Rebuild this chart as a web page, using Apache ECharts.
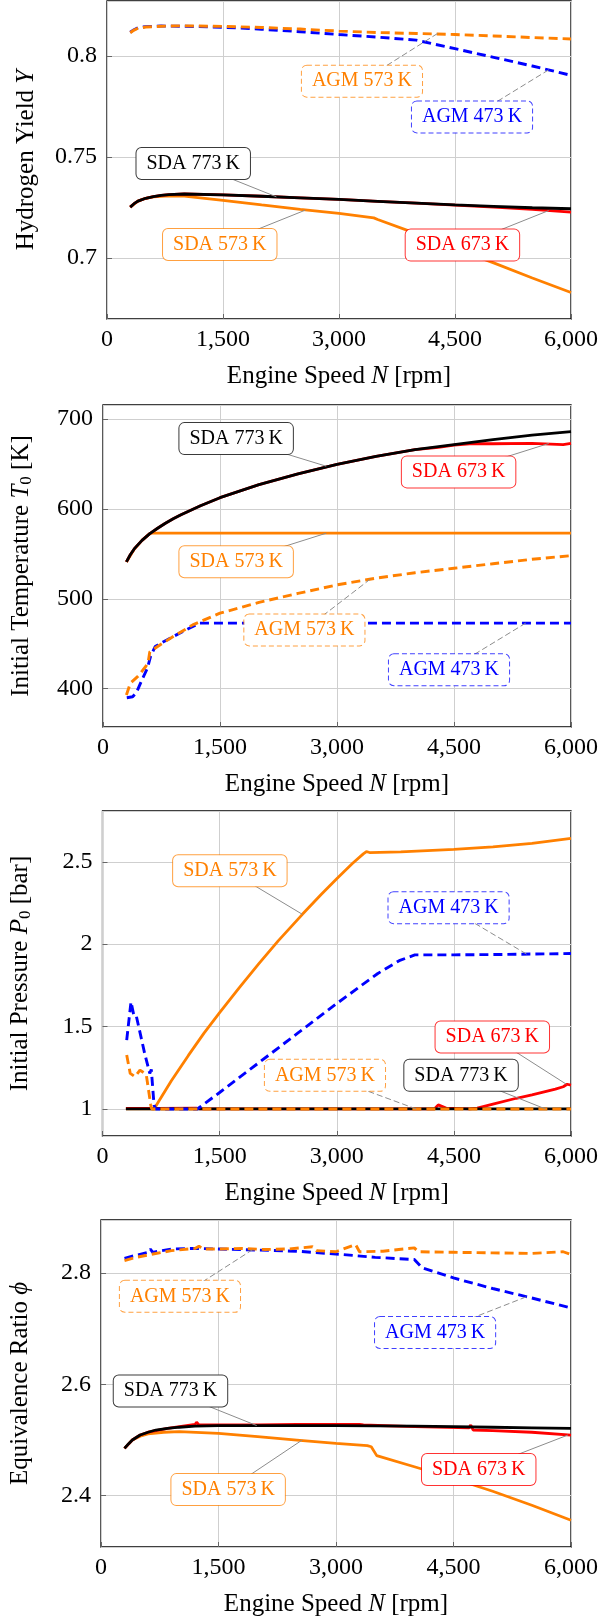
<!DOCTYPE html>
<html>
<head>
<meta charset="utf-8">
<script src="https://cdn.jsdelivr.net/npm/echarts@6/dist/echarts.min.js"></script>
<style>
  html, body { margin: 0; padding: 0; background: #fff; }
  #chart { width: 601px; height: 1624px; }
</style>
</head>
<body>
<div id="chart"></div>
<script>
// engine speed ticks (same for all panels)
const speedTicks = [0, 1500, 3000, 4500, 6000];

// ---- panel 1: hydrogen yield Y ----
const yieldSDA573 = [[300,0.7251],[400,0.7281],[500,0.7295],[600,0.7302],[700,0.7305],[800,0.7307],[1000,0.7306],[1500,0.7285],[2000,0.7262],[2500,0.7240],[3000,0.7220],[3450,0.7198],[3500,0.7190],[4000,0.7120],[4500,0.7046],[5000,0.6975],[5500,0.6900],[6000,0.6828]];
const yieldSDA673 = [[300,0.7251],[350,0.7268],[400,0.7281],[500,0.7295],[600,0.7303],[700,0.7309],[800,0.7313],[1000,0.7316],[1500,0.7312],[2000,0.7305],[2500,0.7297],[3000,0.7289],[3500,0.7280],[4000,0.7271],[4500,0.7261],[5000,0.7251],[5500,0.7240],[6000,0.7226]];
const yieldSDA773 = [[300,0.7251],[350,0.7268],[400,0.7281],[500,0.7295],[600,0.7303],[700,0.7309],[800,0.7313],[1000,0.7316],[1500,0.7312],[2000,0.7305],[2500,0.7297],[3000,0.7289],[3500,0.7280],[4000,0.7271],[4500,0.7262],[5000,0.7255],[5500,0.7248],[6000,0.7243]];
const yieldAGM473 = [[300,0.8117],[350,0.8130],[400,0.8140],[500,0.8145],[700,0.8148],[1000,0.8147],[1500,0.8142],[2000,0.8132],[2500,0.8120],[3000,0.8106],[3500,0.8093],[4000,0.8078],[4500,0.8036],[5000,0.7993],[5500,0.7950],[6000,0.7904]];
const yieldAGM573 = [[300,0.8115],[350,0.8128],[400,0.8137],[500,0.8143],[700,0.8147],[1000,0.8149],[1500,0.8146],[2000,0.8141],[2500,0.8133],[3000,0.8123],[3500,0.8116],[4000,0.8111],[4500,0.8106],[5000,0.8099],[5500,0.8091],[6000,0.8084]];

// ---- panel 2: initial temperature T0 [K] ----
const tempSDA573 = [[300,541],[400,555],[500,565],[600,572.5],[630,573],[6000,573]];
const tempSDA673 = [[300,541],[350,549],[400,555.5],[500,565],[600,572.5],[700,578.5],[800,584],[900,589],[1000,593.5],[1250,603.5],[1500,612.5],[2000,627],[2500,639],[3000,649.5],[3500,658.5],[4000,666],[4300,668.5],[4500,671],[4700,672.5],[5000,672.5],[5500,673],[5900,671.5],[6000,673]];
const tempSDA773 = [[300,541],[350,549],[400,555.5],[500,565],[600,572.5],[700,578.5],[800,584],[900,589],[1000,593.5],[1250,603.5],[1500,612.5],[2000,627],[2500,639],[3000,649.5],[3500,658.5],[4000,666],[4500,671.5],[5000,677],[5500,682],[6000,686]];
const tempAGM473 = [[305,390],[330,388],[380,391],[430,396],[500,410],[570,423],[610,436],[670,447],[750,451],[900,458],[1100,467],[1240,473],[6000,473]];
const tempAGM573 = [[300,393],[350,406],[450,414],[550,425],[580,430],[600,441],[700,447],[900,458],[1150,471],[1500,484],[2000,496],[2500,506],[3000,515.5],[3500,523],[4000,529],[4500,534],[5000,539],[5500,544],[6000,548]];

// ---- panel 3: initial pressure P0 [bar] ----
const presSDA573 = [[300,1.0],[660,1.0],[880,1.17],[1100,1.325],[1300,1.46],[1500,1.585],[1750,1.735],[2000,1.88],[2250,2.02],[2560,2.181],[2800,2.301],[3000,2.397],[3200,2.489],[3340,2.548],[3380,2.562],[3420,2.556],[3820,2.56],[4500,2.575],[5000,2.59],[5500,2.612],[6000,2.642]];
const presSDA673 = [[300,1.003],[700,1.003],[1200,1.005],[1250,1.0],[4250,1.0],[4300,1.025],[4400,1.005],[4700,1.0],[4800,1.005],[5000,1.03],[5300,1.065],[5500,1.085],[5800,1.12],[5900,1.135],[5950,1.15],[6000,1.145]];
const presSDA773 = [[300,1.0],[6000,1.0]];
const presAGM473 = [[310,1.418],[365,1.65],[405,1.56],[435,1.56],[540,1.337],[605,1.216],[625,1.24],[660,1.024],[680,1.0],[1215,1.0],[1500,1.1],[2000,1.28],[2500,1.46],[3000,1.64],[3526,1.822],[3800,1.9],[4000,1.935],[4500,1.935],[5000,1.937],[5500,1.94],[6000,1.943]];
const presAGM573 = [[310,1.327],[355,1.216],[415,1.196],[480,1.236],[560,1.21],[618,1.024],[630,1.0],[6000,1.0]];

// ---- panel 4: equivalence ratio phi ----
const phiSDA573 = [[300,2.485],[400,2.5],[500,2.507],[600,2.511],[800,2.514],[1000,2.515],[1500,2.512],[2000,2.506],[2500,2.5],[3000,2.494],[3400,2.49],[3450,2.488],[3520,2.472],[4000,2.452],[4500,2.431],[5000,2.408],[5500,2.383],[6000,2.356]];
const phiSDA673 = [[300,2.485],[400,2.5],[500,2.509],[600,2.514],[850,2.521],[1200,2.528],[1220,2.532],[1250,2.527],[2000,2.527],[2500,2.528],[3300,2.528],[3320,2.531],[3350,2.527],[4000,2.524],[4700,2.522],[4720,2.527],[4750,2.518],[5000,2.517],[5500,2.514],[6000,2.509]];
const phiSDA773 = [[300,2.485],[350,2.493],[400,2.5],[500,2.509],[600,2.514],[700,2.518],[850,2.521],[1000,2.523],[1200,2.525],[1500,2.526],[2000,2.526],[3000,2.526],[4000,2.525],[4500,2.524],[5000,2.523],[5500,2.522],[6000,2.521]];
const phiAGM473 = [[300,2.826],[400,2.83],[600,2.837],[630,2.843],[660,2.837],[900,2.843],[1200,2.844],[1500,2.843],[2000,2.841],[2500,2.839],[3000,2.834],[3500,2.828],[4000,2.824],[4100,2.809],[4500,2.791],[5000,2.772],[5500,2.755],[6000,2.737]];
const phiAGM573 = [[300,2.822],[450,2.828],[630,2.833],[900,2.84],[1200,2.844],[1250,2.848],[1300,2.843],[1500,2.843],[1800,2.844],[2100,2.842],[2400,2.843],[2700,2.847],[2750,2.84],[3000,2.838],[3250,2.851],[3300,2.838],[3600,2.839],[4000,2.845],[4050,2.838],[4500,2.837],[5000,2.836],[5500,2.835],[5900,2.838],[6000,2.833]];

const seriesNames = ['SDA 573\u2009K', 'SDA 673\u2009K', 'SDA 773\u2009K', 'AGM 473\u2009K', 'AGM 573\u2009K'];

// callout boxes: [label index, anchor N, anchor value, box N, box value]
const yieldNotes = [[4, 4274, 0.8111, 3297, 0.7875], [3, 5711, 0.7931, 4720, 0.7698], [2, 2191, 0.7302, 1115, 0.7467], [0, 2563, 0.7236, 1458, 0.7066], [1, 5711, 0.7234, 4596, 0.7063]];
const tempNotes = [[2, 2862, 647.5, 1707, 678.2], [1, 5715, 672.8, 4559, 641.2], [0, 2862, 573, 1707, 541.3], [4, 3428, 522, 2582, 465.4], [3, 5420, 473, 4436, 421]];
const presNotes = [[0, 2560, 2.181, 1631, 2.445], [3, 5430, 1.94, 4432, 2.221], [1, 5941, 1.15, 4992, 1.437], [4, 4018, 1.0, 2849, 1.204], [2, 5674, 1.0, 4592, 1.204]];
const phiNotes = [[4, 1938, 2.842, 1008, 2.758], [3, 5428, 2.757, 4265, 2.693], [2, 1987, 2.526, 887, 2.588], [0, 2568, 2.5, 1623, 2.411], [1, 5961, 2.509, 4822, 2.447]];

const FONT = 'Liberation Serif';
const ORANGE = '#ff8000';
const lineLook = [
  { color: ORANGE, dash: null, border: 'rgba(255,128,0,0.75)' },
  { color: '#ff0000', dash: null, border: 'rgba(255,0,0,0.8)' },
  { color: '#000000', dash: null, border: '#3a3a3a' },
  { color: '#0000ff', dash: [9, 5], border: 'rgba(0,0,255,0.75)' },
  { color: ORANGE, dash: [9, 5], border: 'rgba(255,128,0,0.75)' }
];

const panels = [
  { data: [yieldSDA573, yieldSDA673, yieldSDA773, yieldAGM473, yieldAGM573], notes: yieldNotes,
    grid: { left: 107, top: 1, width: 465, height: 318 }, min: 0.6697, max: 0.8272, split: 3,
    name: 'Hydrogen Yield {i|Y}' },
  { data: [tempSDA573, tempSDA673, tempSDA773, tempAGM473, tempAGM573], notes: tempNotes,
    grid: { left: 103, top: 405, width: 469, height: 322 }, min: 357.4, max: 715.6, split: 4,
    name: 'Initial Temperature {i|T}{s|0} [K]' },
  { data: [presSDA573, presSDA673, presSDA773, presAGM473, presAGM573], notes: presNotes,
    grid: { left: 98, top: 811, width: 474, height: 325 }, min: 0.836, max: 2.808, split: 4,
    name: 'Initial Pressure {i|P}{s|0} [bar]' },
  { data: [phiSDA573, phiSDA673, phiSDA773, phiAGM473, phiAGM573], notes: phiNotes,
    grid: { left: 96, top: 1220, width: 476, height: 327 }, min: 2.308, max: 2.895, split: 3,
    name: 'Equivalence Ratio {i|ϕ}' }
];

const richName = {
  i: { fontFamily: FONT, fontSize: 25, fontStyle: 'italic', color: '#000' },
  s: { fontFamily: FONT, fontSize: 17, color: '#000', padding: [11, 0, 0, 0] }
};

function noteRenderer(notes) {
  return function (params, api) {
    const n = notes[params.dataIndex];
    const look = lineLook[n[0]];
    const a = api.coord([n[1], n[2]]);
    const b = api.coord([n[3], n[4]]);
    return {
      type: 'group',
      children: [
        { type: 'line', shape: { x1: a[0], y1: a[1], x2: b[0], y2: b[1] },
          style: { stroke: '#8c8c8c', lineWidth: 1, lineDash: look.dash ? [6, 3] : null } },
        { type: 'text', x: b[0], y: b[1],
          style: { text: seriesNames[n[0]], fill: look.color, font: '20px "' + FONT + '"',
            align: 'center', verticalAlign: 'middle', backgroundColor: '#fff',
            borderColor: look.border, borderWidth: 1, borderRadius: 5, padding: [6, 10, 5, 10],
            borderType: look.dash ? [5, 3] : 'solid', borderDash: look.dash ? [5, 3] : null } }
      ]
    };
  };
}

const grid = [], xAxis = [], yAxis = [], series = [];
panels.forEach(function (p, k) {
  grid.push(Object.assign({ show: true, borderColor: '#000', borderWidth: 1.3, backgroundColor: 'transparent' }, p.grid));
  xAxis.push({
    gridIndex: k, type: 'value', min: speedTicks[0], max: speedTicks[speedTicks.length - 1], interval: 1500,
    name: 'Engine Speed {i|N} [rpm]', nameLocation: 'middle', nameGap: 45,
    nameTextStyle: { fontFamily: FONT, fontSize: 25, color: '#000', rich: richName },
    axisLine: { show: false },
    axisTick: { inside: true, length: 5, lineStyle: { color: '#666' } },
    axisLabel: { fontFamily: FONT, fontSize: 24, color: '#000', margin: 9,
      formatter: function (v) { return v.toLocaleString('en-US'); } },
    splitLine: { show: true, lineStyle: { color: '#cfcfcf', width: 1 } }
  });
  yAxis.push({
    gridIndex: k, type: 'value', min: p.min, max: p.max, splitNumber: p.split,
    name: p.name, nameLocation: 'middle', nameGap: 68,
    nameTextStyle: { fontFamily: FONT, fontSize: 25, color: '#000', rich: richName },
    axisLine: { show: false },
    axisTick: { inside: true, length: 5, lineStyle: { color: '#666' } },
    axisLabel: { fontFamily: FONT, fontSize: 24, color: '#000', margin: 10, showMinLabel: false, showMaxLabel: false },
    splitLine: { show: true, lineStyle: { color: '#cfcfcf', width: 1 } }
  });
  p.data.forEach(function (d, j) {
    const look = lineLook[j];
    series.push({
      name: seriesNames[j], type: 'line', xAxisIndex: k, yAxisIndex: k, data: d,
      showSymbol: false, smooth: false, z: 2 + j,
      lineStyle: { color: look.color, width: look.dash ? 2.9 : 2.8, type: look.dash || 'solid' }
    });
  });
  series.push({
    type: 'custom', xAxisIndex: k, yAxisIndex: k, z: 20, silent: true, clip: false,
    data: p.notes.map(function (n) { return [n[1], n[2], n[3], n[4]]; }),
    encode: { x: [0, 2], y: [1, 3] },
    renderItem: noteRenderer(p.notes)
  });
});

const chart = echarts.init(document.getElementById('chart'));
chart.setOption({ animation: false, grid: grid, xAxis: xAxis, yAxis: yAxis, series: series });
</script>
</body>
</html>
